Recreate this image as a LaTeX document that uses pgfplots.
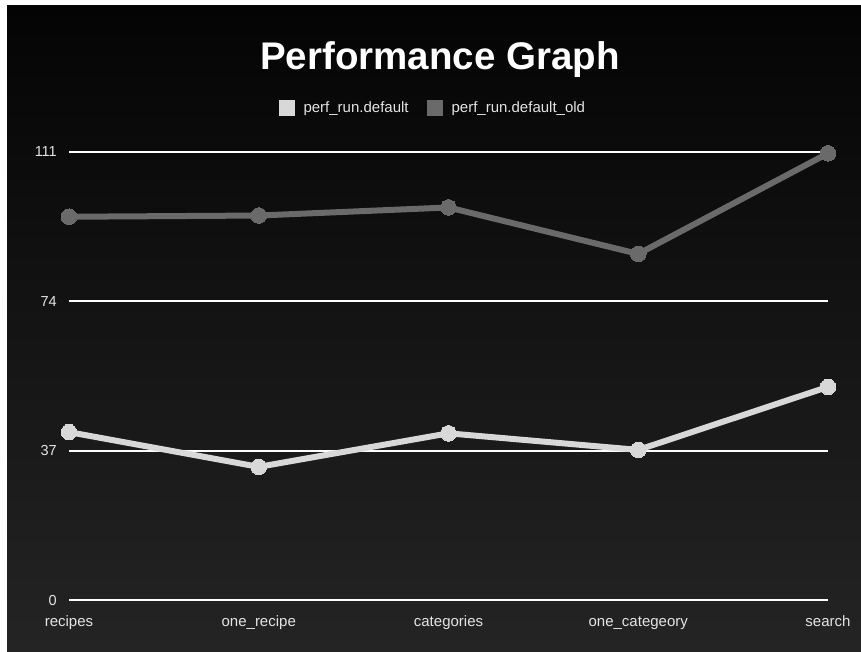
\documentclass[border=0pt]{standalone}
\usepackage{fontspec}
\setmainfont{Liberation Sans}
\usepackage{pgfplots}
\pgfplotsset{compat=1.18}

\definecolor{bgtop}{RGB}{4,4,4}
\definecolor{bgmid}{RGB}{14,14,14}
\definecolor{bgbot}{RGB}{36,36,36}
\definecolor{newser}{RGB}{216,216,216}
\definecolor{oldser}{RGB}{106,106,106}
\definecolor{labelgray}{RGB}{228,228,228}

\begin{document}
\begin{tikzpicture}[x=1pt,y=1pt]
% canvas with thin light frame on top and left
\fill[white] (0,0) rectangle (861,651);
\shade[top color=bgtop, middle color=bgmid, bottom color=bgbot] (7,0) rectangle (861,645);
\node[anchor=base, text=white, font=\fontsize{38.5}{44}\selectfont\bfseries] at (440,581) {Performance Graph};
\begin{axis}[
  at={(69pt,50.8pt)}, anchor=south west, scale only axis,
  width=759pt, height=448.5pt,
  xmin=0, xmax=4, ymin=0, ymax=111,
  clip=false,
  axis line style={draw=none},
  major tick length=0pt,
  xtick={0,1,2,3,4},
  xticklabels={recipes,one\_recipe,categories,one\_categeory,search},
  ytick={0,37,74,111},
  ymajorgrids,
  grid style={white, line width=1.8pt},
  /pgf/number format/assume math mode=true,
  xticklabel style={anchor=base, yshift=-26pt, inner sep=0pt, text=labelgray, font=\fontsize{15}{18}\selectfont},
  yticklabel style={anchor=east, xshift=-12pt, inner sep=0pt, text=labelgray, font=\fontsize{14.5}{16}\selectfont},
  legend columns=2,
  legend style={at={(0.478,1.0975)}, anchor=center, draw=none, fill=none,
    text=labelgray, font=\fontsize{15}{16}\selectfont,
    nodes={inner sep=0pt},
    /tikz/every odd column/.append style={column sep=9pt},
    /tikz/every even column/.append style={column sep=18pt}},
]
\addplot[newser, line width=6pt, line join=round, mark=*, mark size=7.8pt,
  mark options={fill=newser, draw=newser, line width=0pt},
  legend image code/.code={\path[fill=newser, draw=none] (0pt,-8pt) rectangle (16pt,8pt);}]
  coordinates {(0,41.6) (1,33.0) (2,41.3) (3,37.2) (4,52.8)};
\addlegendentry{perf\_run.default}
\addplot[oldser, line width=6pt, line join=round, mark=*, mark size=7.8pt,
  mark options={fill=oldser, draw=oldser, line width=0pt},
  legend image code/.code={\path[fill=oldser, draw=none] (0pt,-8pt) rectangle (16pt,8pt);}]
  coordinates {(0,94.9) (1,95.2) (2,97.2) (3,85.7) (4,110.6)};
\addlegendentry{perf\_run.default\_old}
\end{axis}
\end{tikzpicture}
\end{document}
